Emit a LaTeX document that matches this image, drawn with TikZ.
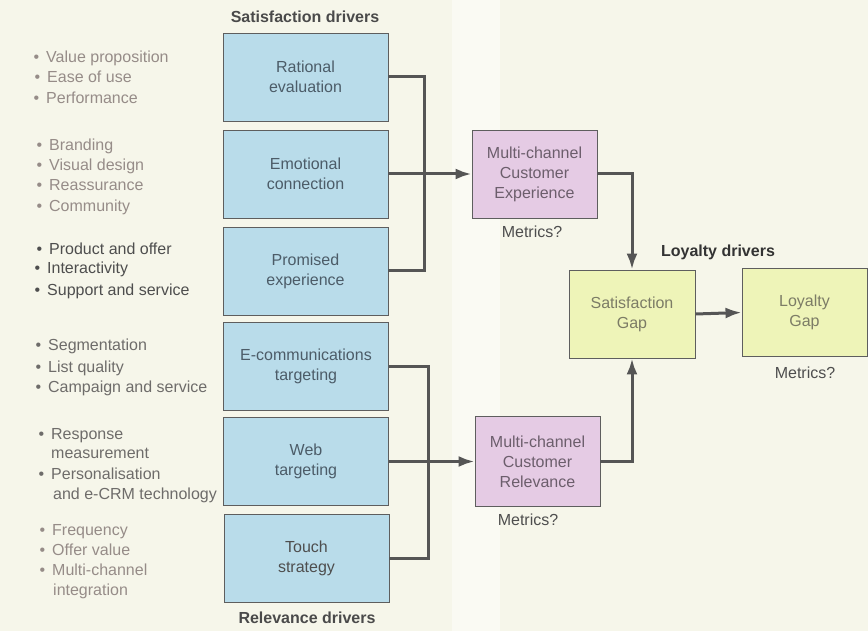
\documentclass[tikz,border=0pt]{standalone}
\usepackage{fontspec}
\setmainfont{Liberation Sans}
\usetikzlibrary{arrows.meta}
\definecolor{bgc}{HTML}{F6F6EA}
\definecolor{bandc}{HTML}{FAFAF3}
\definecolor{bluebox}{HTML}{B9DCEA}
\definecolor{pinkbox}{HTML}{E5CBE4}
\definecolor{yelbox}{HTML}{EEF4B8}
\definecolor{edgec}{HTML}{5E5E5E}
\definecolor{arrc}{HTML}{555555}
\definecolor{gA}{HTML}{968C88}
\definecolor{gB}{HTML}{4E4E4E}
\definecolor{gC}{HTML}{6E6C6A}
\definecolor{bluetext}{HTML}{4C5C68}
\definecolor{pinktext}{HTML}{6C5E6C}
\definecolor{yeltext}{HTML}{7C7C66}
\definecolor{headc}{HTML}{4A4A4A}
\tikzset{
  x=1pt,y=-1pt,
  txt/.style={font=\fontsize{16}{20}\selectfont},
  box/.style={txt,draw=edgec,line width=0.9pt,align=center,inner sep=2pt},
  bluebx/.style={box,fill=bluebox,text=bluetext,minimum width=165,minimum height=88},
  pinkbx/.style={box,fill=pinkbox,text=pinktext,minimum width=125,minimum height=88},
  yelbx/.style={box,fill=yelbox,text=yeltext,minimum width=126,minimum height=88},
  item/.style={txt,anchor=base west,inner sep=0pt},
  head/.style={font=\fontsize{16}{20}\selectfont\bfseries,text=headc,inner sep=0pt},
  metric/.style={txt,text=gB,inner sep=0pt},
  conn/.style={draw=arrc,line width=3pt},
  arr/.style={conn,-{Latex[length=16pt,width=11pt]}},
}
\newcommand{\bul}{\llap{\textbullet\hspace{7pt}}}
\begin{document}
\begin{tikzpicture}
\fill[bgc] (0,0) rectangle (868,631);
\fill[bandc] (452,0) rectangle (500,631);
\useasboundingbox (0,0) rectangle (868,631);

% headers
\node[head] (hsat) at (305,17) {Satisfaction drivers};
\node[head] (hrel) at (307,618) {Relevance drivers};
\node[head,text=black!80] (hloy) at (718,252) {Loyalty drivers};

% blue boxes
\node[bluebx] (r1) at (305.5,77) {Rational\\evaluation};
\node[bluebx] (r2) at (305.5,174) {Emotional\\connection};
\node[bluebx] (r3) at (305.5,271) {Promised\\experience};
\node[bluebx] (r4) at (306,366) {E-communications\\targeting};
\node[bluebx] (r5) at (306,461.5) {Web\\targeting};
\node[bluebx,text=gB] (r6) at (306.5,558.5) {Touch\\strategy};

% pink boxes
\node[pinkbx] (p1) at (534.5,174) {Multi-channel\\Customer\\Experience};
\node[pinkbx,minimum height=90] (p2) at (537.5,461.5) {Multi-channel\\Customer\\Relevance};
\node[metric] (m1) at (532,232) {Metrics?};
\node[metric] (m2) at (528,520) {Metrics?};

% yellow boxes
\node[yelbx] (sat) at (632,314) {Satisfaction\\Gap};
\node[yelbx,minimum width=125] (loy) at (804.5,312.5) {Loyalty\\Gap};
\node[metric] (m3) at (805,373) {Metrics?};

% connectors
\coordinate (jA) at (424,174);
\coordinate (jB) at (428,461.5);
\draw[conn] (r1.east) -| (jA) |- (r3.east);
\draw[arr] (r2.east) -- (p1.west);
\draw[conn] (r4.east) -| (jB) |- (r6.east);
\draw[arr] (r5.east) -- (p2.west);
\draw[arr] (p1.east) -| (sat.north);
\draw[arr] (p2.east) -| (sat.south);
\draw[arr] (sat.east) -- (loy.west);

% bullet lists
\begin{scope}[every node/.style={item,text=gA}]
\node (a1) at (46,63) {\bul Value proposition};
\node (a2) at (47,83) {\bul Ease of use};
\node (a3) at (46,104) {\bul Performance};
\node (b1) at (49,151) {\bul Branding};
\node (b2) at (49,171) {\bul Visual design};
\node (b3) at (49,191) {\bul Reassurance};
\node (b4) at (49,212) {\bul Community};
\end{scope}
\begin{scope}[every node/.style={item,text=gB}]
\node (c1) at (49,255) {\bul Product and offer};
\node (c2) at (47,274) {\bul Interactivity};
\node (c3) at (47,296) {\bul Support and service};
\end{scope}
\begin{scope}[every node/.style={item,text=gC}]
\node (d1) at (48,350) {\bul Segmentation};
\node (d2) at (48,372) {\bul List quality};
\node (d3) at (48,392) {\bul Campaign and service};
\node (e1) at (51,439) {\bul Response};
\node (e2) at (51,458) {measurement};
\node (e3) at (51,479) {\bul Personalisation};
\node (e4) at (53,499) {and e-CRM technology};
\end{scope}
\begin{scope}[every node/.style={item,text=gA}]
\node (f1) at (52,535) {\bul Frequency};
\node (f2) at (52,555) {\bul Offer value};
\node (f3) at (52,575) {\bul Multi-channel};
\node (f4) at (53,595) {integration};
\end{scope}
\end{tikzpicture}
\end{document}
